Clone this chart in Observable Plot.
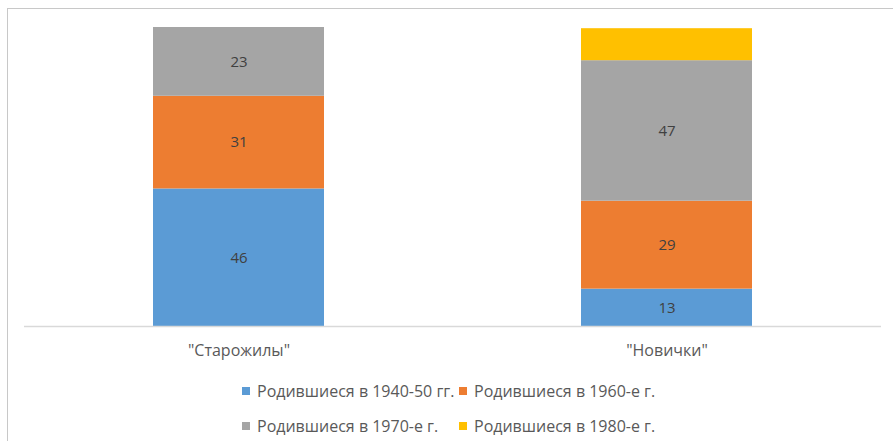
<!DOCTYPE html>
<html>
<head>
<meta charset="utf-8">
<script src="https://cdn.jsdelivr.net/npm/d3@7"></script>
<script src="https://cdn.jsdelivr.net/npm/@observablehq/plot@0.6"></script>
<style>
  html, body { margin: 0; padding: 0; background: #fff; }
  #wrap { position: relative; width: 893px; height: 441px; overflow: hidden; font-family: "Open Sans", sans-serif; }
  #frame { position: absolute; left: 7px; top: 8px; width: 900px; height: 450px; border-left: 1.5px solid #c8c8c8; border-top: 1.5px solid #c8c8c8; }
  #chart { position: absolute; left: 0; top: 0; }
  .legend { position: absolute; left: 0; width: 893px; font-size: 16px; color: #595959; }
  .item { position: absolute; display: flex; align-items: center; white-space: nowrap; }
  .sw { width: 8px; height: 8px; margin-right: 7px; }
</style>
</head>
<body>
<div id="wrap">
  <div id="frame"></div>
  <div id="chart"></div>
  <div class="legend" id="legend"></div>
</div>
<script>
const categories = ['"Старожилы"', '"Новички"'];
const series = ["Родившиеся в 1940-50 гг.", "Родившиеся в 1960-е г.", "Родившиеся в 1970-е г.", "Родившиеся в 1980-е г."];
const colors = ["#5B9BD5", "#ED7D31", "#A5A5A5", "#FFC000"];
const oldTimers = [46, 31, 23, 0];
const newcomers = [12.5, 29.4, 47, 10.7];
const showLabel = [true, true, true, false];

const data = [];
series.forEach((s, i) => {
  data.push({cat: categories[0], series: s, value: oldTimers[i], label: showLabel[i]});
  data.push({cat: categories[1], series: s, value: newcomers[i], label: showLabel[i]});
});

const chart = Plot.plot({
  width: 893,
  height: 370,
  marginLeft: 24,
  marginRight: 12,
  marginTop: 27,
  marginBottom: 44,
  style: {fontFamily: '"Open Sans", sans-serif', background: "transparent"},
  x: {domain: categories, paddingInner: 0.6, paddingOuter: 0.3, label: null},
  y: {domain: [0, 100], axis: null},
  color: {domain: series, range: colors},
  marks: [
    Plot.barY(data, Plot.stackY({x: "cat", y: "value", fill: "series", order: series})),
    Plot.ruleY([0], {stroke: "#d9d9d9", strokeWidth: 1.5}),
    Plot.text(data.filter(d => d.label), Plot.stackY({x: "cat", y: "value", z: "series", order: series, text: d => String(Math.round(d.value)), fill: "#404040", fontSize: 15})),
    Plot.axisX({tickSize: 0, tickPadding: 18, fontSize: 16, color: "#595959"})
  ]
});
document.getElementById("chart").appendChild(chart);

const legend = document.getElementById("legend");
const pos = [[242, 392], [459, 392], [242, 427], [459, 427]];
series.forEach((s, i) => {
  const it = document.createElement("div");
  it.className = "item";
  it.style.left = pos[i][0] + "px";
  it.style.top = (pos[i][1] - 12) + "px";
  it.innerHTML = `<span class="sw" style="background:${colors[i]}"></span><span>${s}</span>`;
  legend.appendChild(it);
});
</script>
</body>
</html>
